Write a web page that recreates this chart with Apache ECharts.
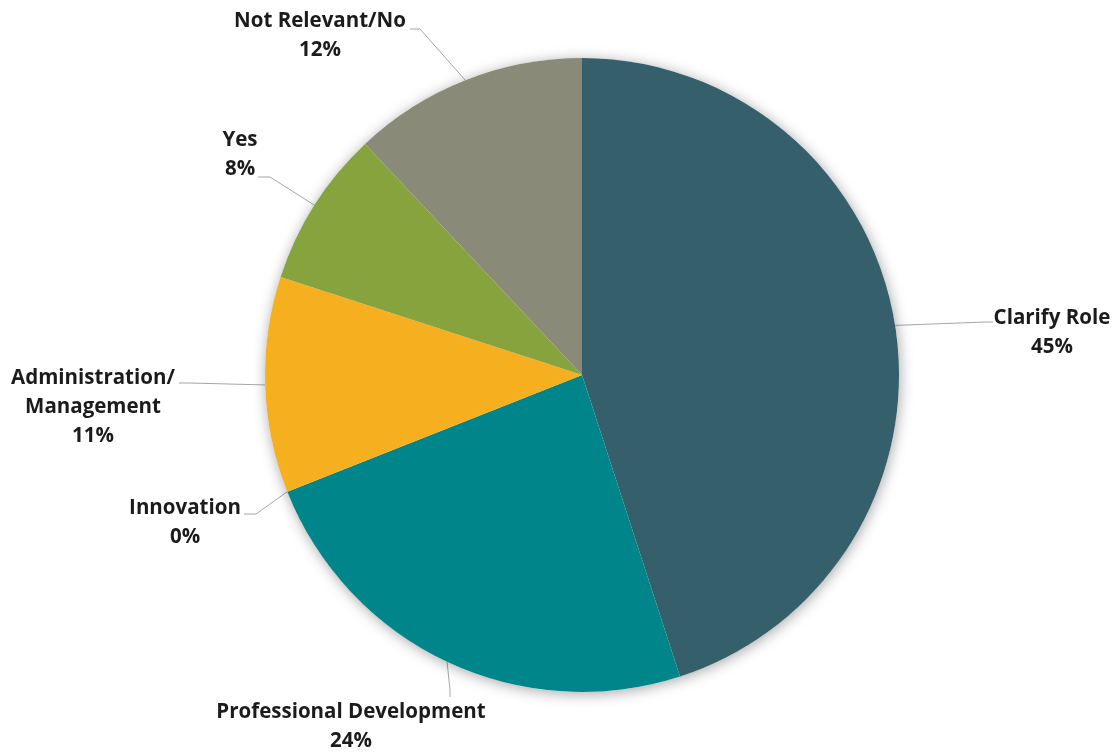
<!DOCTYPE html>
<html>
<head>
<meta charset="utf-8">
<script src="https://cdn.jsdelivr.net/npm/echarts@6/dist/echarts.min.js"></script>
<style>
  html, body { margin: 0; padding: 0; background: #ffffff; }
  #chart { width: 1118px; height: 753px; }
</style>
</head>
<body>
<div id="chart"></div>
<script>
// Survey responses, clockwise from 12 o'clock
const categories = ['Clarify Role', 'Professional Development', 'Innovation', 'Administration/\nManagement', 'Yes', 'Not Relevant/No'];
const percentValues = [45, 24, 0, 11, 8, 12];
const sliceColors = ['#365F6C', '#00868A', '#2E75B6', '#F5AF1F', '#87A33D', '#898A78'];

// Label block centres and leader-line elbows (pixel layout)
const labelPlacement = [
  { x: 1052, y: 333, elbow: [985, 322], end: [993, 322] },
  { x: 351, y: 727, elbow: [450, 690], end: [450, 697] },
  { x: 185, y: 523, elbow: [256, 514], end: [244, 514] },
  { x: 93, y: 407, elbow: [190, 383], end: [179, 383] },
  { x: 240, y: 155, elbow: [270, 177], end: [258, 177] },
  { x: 320, y: 36, elbow: [420, 29], end: [410, 29] }
];

const chart = echarts.init(document.getElementById('chart'), null, { renderer: 'canvas' });

const pieData = categories.map((name, i) => ({
  name: name,
  value: percentValues[i],
  itemStyle: { color: sliceColors[i] }
}));

const total = percentValues.reduce((a, b) => a + b, 0);

chart.setOption({
  animation: false,
  series: [
    {
      // soft outer shadow under the whole disc
      type: 'pie',
      silent: true,
      center: ['52.06%', '49.8%'],
      radius: 317,
      label: { show: false },
      labelLine: { show: false },
      itemStyle: {
        color: '#ffffff',
        shadowBlur: 14,
        shadowColor: 'rgba(0,0,0,0.35)',
        shadowOffsetX: 1,
        shadowOffsetY: 2
      },
      data: [{ value: total, name: '' }]
    },
    {
      type: 'pie',
      center: ['52.06%', '49.8%'],
      radius: 317,
      startAngle: 90,
      clockwise: true,
      avoidLabelOverlap: false,
      itemStyle: { borderWidth: 0 },
      label: {
        show: true,
        formatter: function (p) { return p.name + '\n' + p.value + '%'; },
        fontFamily: 'Open Sans',
        fontWeight: 'bold',
        fontSize: 20.5,
        lineHeight: 29,
        color: '#1b1b1b',
        align: 'center'
      },
      labelLine: {
        show: true,
        length: 20,
        length2: 10,
        lineStyle: { color: '#a6a6a6', width: 1 }
      },
      labelLayout: function (params) {
        const pos = labelPlacement[params.dataIndex];
        const start = params.labelLinePoints ? params.labelLinePoints[0] : pos.elbow;
        return {
          x: pos.x,
          y: pos.y,
          align: 'center',
          verticalAlign: 'middle',
          labelLinePoints: [start, pos.elbow, pos.end]
        };
      },
      data: pieData
    }
  ]
});
</script>
</body>
</html>
